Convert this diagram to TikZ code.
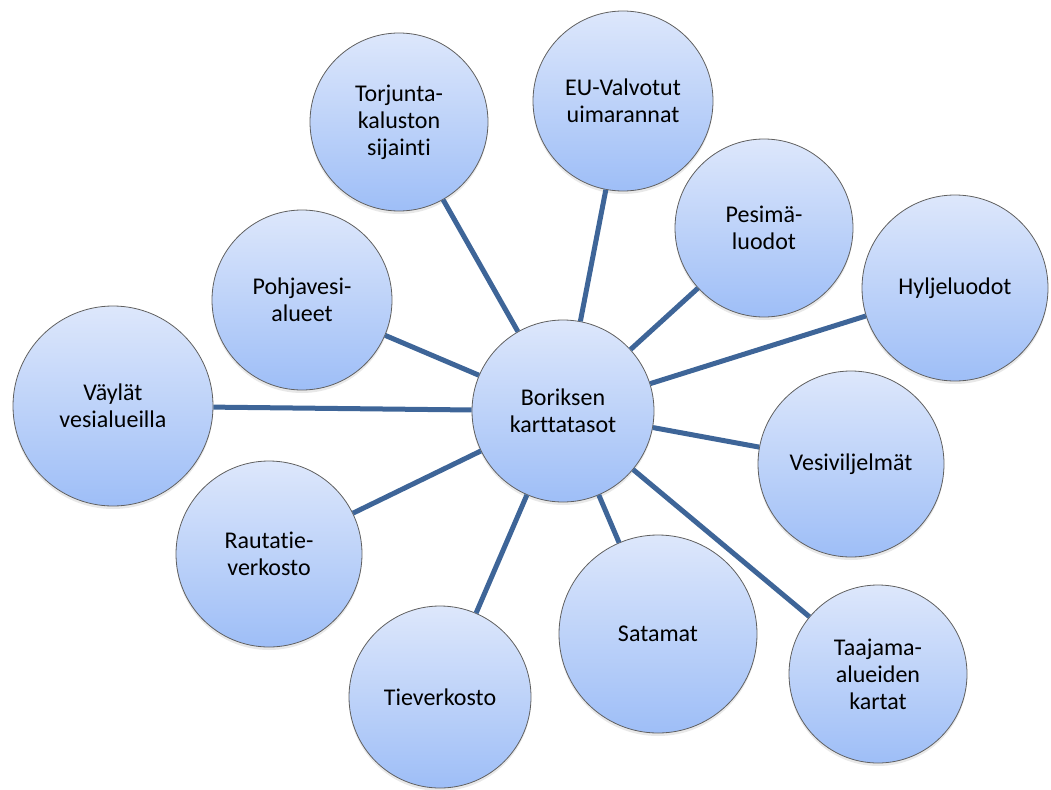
\documentclass[tikz,border=0pt]{standalone}
\usepackage{fontspec}
\setmainfont{Carlito}[Ligatures={NoCommon,NoContextual}]
\usetikzlibrary{shadows}
\definecolor{bubtop}{RGB}{221,231,251}
\definecolor{bubbot}{RGB}{158,190,247}
\definecolor{qline}{RGB}{62,101,152}

\begin{document}
\begin{tikzpicture}[x=1pt,y=-1pt,
  bubble/.style={circle, draw=gray!75!black, line width=0.8pt,
    top color=bubtop, bottom color=bubbot, align=center, inner sep=0pt,
    font=\fontsize{24}{27}\selectfont,
    drop shadow={shadow xshift=0pt, shadow yshift=-3pt, opacity=0.18}},
  link/.style={draw=qline, line width=5pt}]

\useasboundingbox (0,0) rectangle (1051,789);

%centre
\node[bubble, minimum size=182] (kt) at (563,411) {Boriksen\\karttatasot};

%layers around it
\node[bubble, minimum size=178] (torj) at (399,122) {Torjunta-\\kaluston\\sijainti};
\node[bubble, minimum size=180] (eu) at (623,101) {EU-Valvotut\\uimarannat};
\node[bubble, minimum size=178] (pesi) at (764,228) {Pesimä-\\luodot};
\node[bubble, minimum size=186] (hylj) at (955,288) {Hyljeluodot};
\node[bubble, minimum size=180] (pohj) at (302,300) {Pohjavesi-\\alueet};
\node[bubble, minimum size=200] (vayl) at (113,406) {Väylät\\vesialueilla};
\node[bubble, minimum size=186] (vesi) at (851,464) {Vesiviljelmät};
\node[bubble, minimum size=186] (raut) at (269,554) {Rautatie-\\verkosto};
\node[bubble, minimum size=198] (sata) at (658,634) {Satamat};
\node[bubble, minimum size=182] (tiev) at (440,697) {Tieverkosto};
\node[bubble, minimum size=178] (taaj) at (878,674) {Taajama-\\alueiden\\kartat};

%spokes
\draw[link] (kt) -- (torj);
\draw[link] (kt) -- (eu);
\draw[link] (kt) -- (pesi);
\draw[link] (kt) -- (hylj);
\draw[link] (kt) -- (pohj);
\draw[link] (kt) -- (vayl);
\draw[link] (kt) -- (vesi);
\draw[link] (kt) -- (raut);
\draw[link] (kt) -- (sata);
\draw[link] (kt) -- (tiev);
\draw[link] (kt) -- (taaj);

\end{tikzpicture}
\end{document}
